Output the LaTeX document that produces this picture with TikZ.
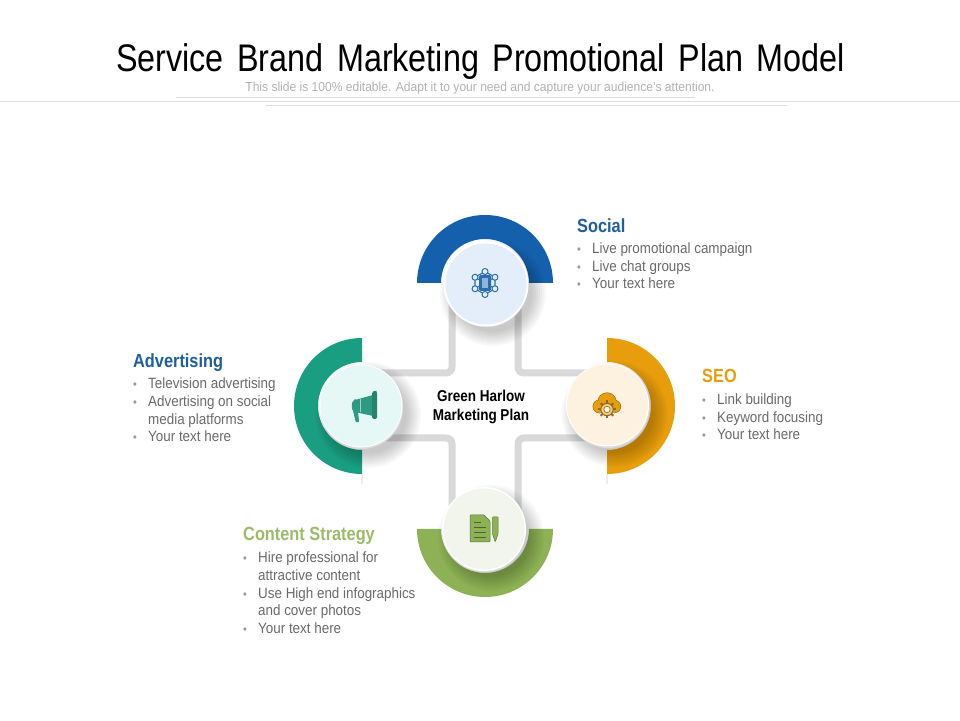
\documentclass[tikz,border=0pt]{standalone}
\usepackage{fontspec}
\setmainfont{Liberation Sans}
\newfontfamily\narrowf[FakeStretch=0.86]{Liberation Sans}
\newfontfamily\bodyf[FakeStretch=0.9]{Liberation Sans}
\newfontfamily\titlef[FakeStretch=0.84,WordSpace=1.5]{Liberation Sans}
\newfontfamily\subf[FakeStretch=0.92]{Liberation Sans}
\usetikzlibrary{backgrounds,calc}
\definecolor{cblue}{HTML}{1460AC}
\definecolor{cteal}{HTML}{1A9E82}
\definecolor{corange}{HTML}{E89E0C}
\definecolor{cgreen}{HTML}{8DB255}
\definecolor{hblue}{HTML}{1F5F9E}
\definecolor{hgreen}{HTML}{9DBB6B}
\definecolor{bodyg}{HTML}{6A6A6A}
\definecolor{rulec}{HTML}{DDDDDD}
\definecolor{tintb}{HTML}{E3EEFA}
\definecolor{tintt}{HTML}{E6F8F5}
\definecolor{tinto}{HTML}{FDF1DF}
\definecolor{tintg}{HTML}{F1F5EC}
\definecolor{iconb}{HTML}{2A6DB0}
\definecolor{icont}{HTML}{2E9A82}
\definecolor{icong}{HTML}{8DB255}
\definecolor{gearb}{HTML}{8A6A2A}
\newcommand{\bl}[1]{\hbox to 15pt{\textcolor{gray!80}{\fontsize{12}{12}\selectfont •}\hfil}#1}
\newcommand{\ct}[1]{\hspace*{15pt}#1}
\tikzset{
  x=1pt,y=1pt,
  disc/.style={circle,draw=none,minimum size=81pt,inner sep=0pt},
  pipe/.style={draw=black!15,line width=7pt,rounded corners=6pt},
  heading/.style={anchor=base west,inner sep=0pt,font=\narrowf\fontsize{19}{19}\selectfont\bfseries},
  body/.style={anchor=north west,inner sep=0pt,align=left,text=bodyg,font=\bodyf\fontsize{14.9}{17.6}\selectfont},
  stub/.style={draw=black!7,line width=1.5pt},
  icoline/.style={line width=1pt,line join=round},
}
\newcommand{\softshadow}[1]{%
  \foreach \r in {53,51,...,39}{\fill[black,opacity=.026] ($(#1)+(7,-9)$) circle[radius=\r];}%
}
\newcommand{\discrim}[2]{%
  \fill[black!14] ($(#1)+(.6,-1.6)$) circle[radius=41.5];
  \fill[white] (#1) circle[radius=#2];
}
\begin{document}
\begin{tikzpicture}
\useasboundingbox (0,0) rectangle (960,720);

% header
\node[inner sep=0pt,font=\titlef\fontsize{38.5}{38.5}\selectfont] (title) at (480.5,658) {Service Brand Marketing Promotional Plan Model};
\node[inner sep=0pt,text=black!30,font=\subf\fontsize{13.1}{13.1}\selectfont] (sub) at (480,632) {This slide is 100\% editable. Adapt it to your need and capture your audience’s attention.};

% discs
\node[disc,fill=tintb] (social) at (486,436) {};
\node[disc,fill=tintt] (adv) at (361,314) {};
\node[disc,fill=tinto] (seo) at (607.5,315) {};
\node[disc,fill=tintg] (content) at (484,191) {};
\coordinate (tl) at (452,347);
\coordinate (tr) at (518,347);
\coordinate (bl) at (452,282);
\coordinate (br) at (518,282);

\begin{scope}[on background layer]
  \fill[white] (0,0) rectangle (960,720);
  \draw[rulec,line width=.8pt] (0,619) -- (960,619);
  \draw[rulec,line width=.8pt] (176,623) -- (695,623);
  \draw[rulec,line width=.8pt] (266,615) -- (787,615);
  % connectors
  \draw[pipe] (tl |- social) -- (tl) -- (tl -| adv);
  \draw[pipe] (tr |- social) -- (tr) -- (tr -| seo);
  \draw[pipe] (bl |- content) -- (bl) -- (bl -| adv);
  \draw[pipe] (br |- content) -- (br) -- (br -| seo);
  % stubs under side rings
  \draw[stub] (362,246) -- (362,236);
  \draw[stub] (607,246) -- (607,236);
  % half rings
  \fill[cblue] (417,437) arc[start angle=180,end angle=0,radius=68] -- (529,437) arc[start angle=0,end angle=180,radius=44] -- cycle;
  \fill[cteal] (362,382) arc[start angle=90,end angle=270,radius=68] -- (362,270) arc[start angle=270,end angle=90,radius=44] -- cycle;
  \fill[corange] (607,382) arc[start angle=90,end angle=-90,radius=68] -- (607,270) arc[start angle=-90,end angle=90,radius=44] -- cycle;
  \fill[cgreen] (417,191) arc[start angle=180,end angle=360,radius=68] -- (529,191) arc[start angle=360,end angle=180,radius=44] -- cycle;
  % shadows and rims
  \softshadow{social}\softshadow{adv}\softshadow{seo}\softshadow{content}
  \discrim{social}{42.5}\discrim{adv}{41.5}\discrim{seo}{41.5}\discrim{content}{42}
\end{scope}

% social icon
\begin{scope}[shift={(485,437)},iconb]
  \draw[icoline,line width=1.1pt] (90:11.5) -- (30:11.5) -- (-30:11.5) -- (-90:11.5) -- (-150:11.5) -- (150:11.5) -- cycle;
  \foreach \a in {30,90,150,210,270,330}{
    \draw[icoline] (\a:11.5) -- (\a:6);
    \draw[icoline,fill=tintb] (\a:11.5) circle[radius=3];
  }
  \fill[rounded corners=1.5pt] (-6,-8) rectangle (6,8);
  \fill[tintb!55!iconb] (-3,-5) rectangle (3,5);
\end{scope}

% megaphone icon
\begin{scope}[shift={(362,314)}]
  \fill[icont,rounded corners=.8pt] (-9,-5) -- (-4,-6) -- (-3,-15) .. controls (-3.5,-16.5) and (-6,-16.5) .. (-6.5,-15) -- cycle;
  \fill[icont,rounded corners=1pt] (-7,6) -- (11,11) -- (11,-10) -- (-7,-6) .. controls (-11,-5) and (-11,5) .. cycle;
  \fill[icont!85!black,rounded corners=1.5pt] (10,14) .. controls (12,15) and (14.5,15) .. (15,14) -- (15,-13) -- (10,-13) -- cycle;
  \draw[tintt!60!icont,line width=.5pt] (-2,6.8) -- (-2,-6);
\end{scope}

% cloud and gear icon
\begin{scope}[shift={(607,314)}]
  \foreach \pa/\pb/\pc in {-7.5/-0.5/6.3,0/4/9,7.5/-0.5/6}{\fill[gearb] (\pa,\pb) circle[radius=\pc+.6];}
  \fill[gearb] (-7.5,-7.4) rectangle (7.5,-2);
  \foreach \pa/\pb/\pc in {-7.5/-0.5/6.3,0/4/9,7.5/-0.5/6}{\fill[corange] (\pa,\pb) circle[radius=\pc];}
  \fill[corange] (-7.5,-6.8) rectangle (7.5,-2);
  \foreach \a in {0,45,...,315}{\draw[gearb,line width=2pt] ($(0,-3.5)+(\a:5.5)$) -- ($(0,-3.5)+(\a:9)$);}
  \draw[gearb,line width=1pt,fill=corange!55!white] (0,-3.5) circle[radius=6.2];
  \draw[gearb,line width=.6pt,fill=tinto] (0,-3.5) circle[radius=3.2];
\end{scope}

% document and pen icon
\begin{scope}[shift={(484,191)}]
  \fill[icong,rounded corners=.8pt] (-14,14) -- (0,14) -- (6,8) -- (6,-13) -- (-14,-13) -- cycle;
  \draw[icong!65!black,line width=.5pt,rounded corners=.8pt] (-14,14) -- (0,14) -- (6,8) -- (6,-13) -- (-14,-13) -- cycle;
  \foreach \yy/\xx in {7/-3,2/2,-3/2,-8/2}{\draw[icong!55!black,line width=.6pt] (-10,\yy) -- (\xx,\yy);}
  \fill[icong,rounded corners=.6pt] (8.5,12) -- (14,12) -- (14,-5) -- (11.2,-13) -- (8.5,-5) -- cycle;
  \draw[icong!65!black,line width=.5pt,rounded corners=.6pt] (8.5,12) -- (14,12) -- (14,-5) -- (11.2,-13) -- (8.5,-5) -- cycle;
\end{scope}

% centre label
\node[inner sep=0pt,align=center,font=\narrowf\fontsize{15.7}{19}\selectfont\bfseries] (centre) at (481,313.5) {Green Harlow\\Marketing Plan};

% text blocks
\node[heading,text=hblue] (h1) at (577,487) {Social};
\node[body] (b1) at (577,477.5) {\bl{Live promotional campaign}\\\bl{Live chat groups}\\\bl{Your text here}};
\node[heading,text=corange] (h2) at (702,337) {SEO};
\node[body] (b2) at (702,326.5) {\bl{Link building}\\\bl{Keyword focusing}\\\bl{Your text here}};
\node[heading,text=hblue] (h3) at (133,352) {Advertising};
\node[body] (b3) at (133,342) {\bl{Television advertising}\\\bl{Advertising on social}\\\ct{media platforms}\\\bl{Your text here}};
\node[heading,text=hgreen] (h4) at (243,179) {Content Strategy};
\node[body] (b4) at (243,168) {\bl{Hire professional for}\\\ct{attractive content}\\\bl{Use High end infographics}\\\ct{and cover photos}\\\bl{Your text here}};
\end{tikzpicture}
\end{document}
